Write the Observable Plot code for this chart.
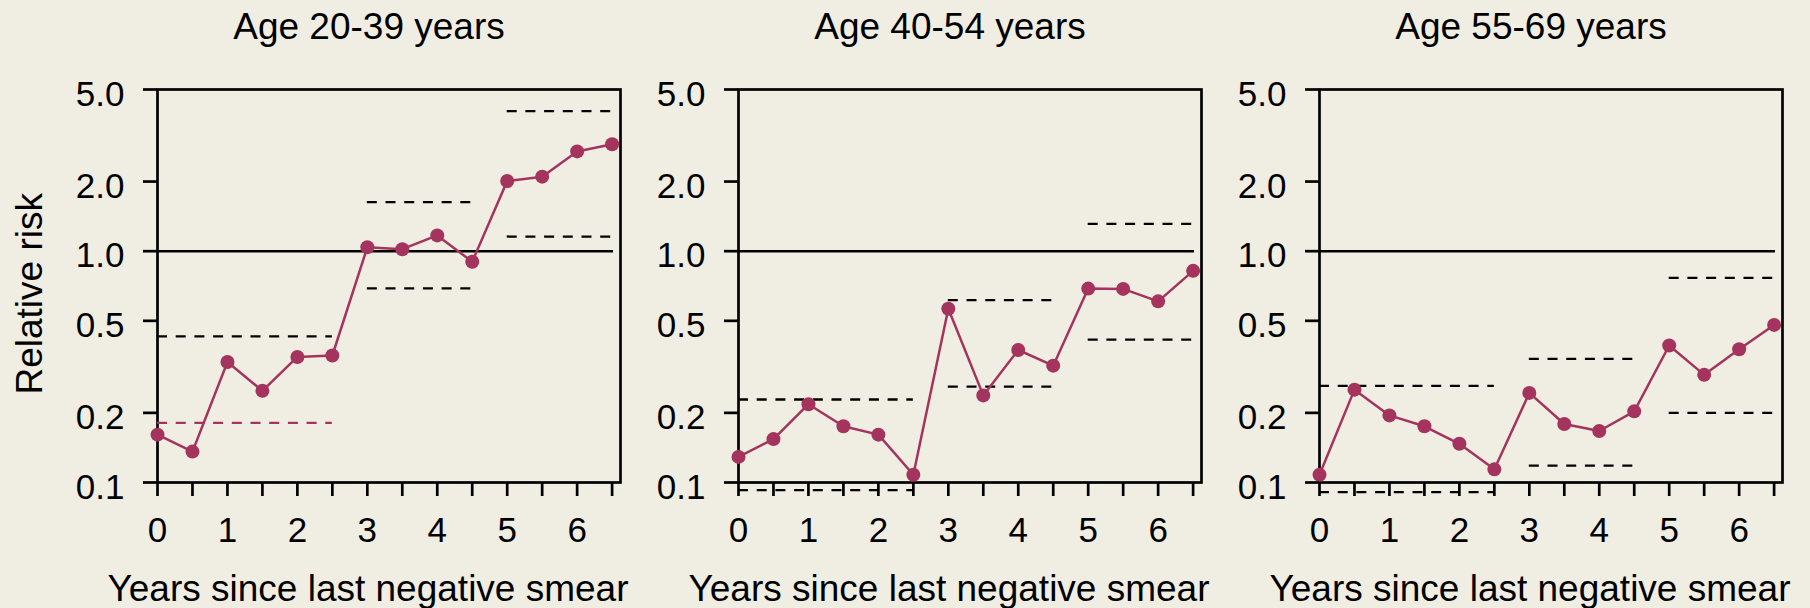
<!DOCTYPE html>
<html><head><meta charset="utf-8">
<script src="https://cdn.jsdelivr.net/npm/d3@7"></script>
<script src="https://cdn.jsdelivr.net/npm/@observablehq/plot@0.6"></script>
<style>
html,body{margin:0;padding:0;background:#F0EEE3;overflow:hidden;}
#wrap{position:relative;width:1810px;height:608px;}
#wrap svg{position:absolute;top:0;}
</style></head><body><div id="wrap"></div>
<script>
// ---- data ----
const years = [0,0.5,1,1.5,2,2.5,3,3.5,4,4.5,5,5.5,6,6.5];
const panelTitles = ["Age 20-39 years","Age 40-54 years","Age 55-69 years"];
const rr20to39 = [0.161,0.136,0.332,0.249,0.349,0.354,1.04,1.02,1.17,0.90,2.01,2.10,2.70,2.90];
const rr40to54 = [0.129,0.154,0.218,0.175,0.161,0.108,0.564,0.238,0.374,0.320,0.689,0.687,0.607,0.822];
const rr55to69 = [0.108,0.252,0.195,0.175,0.147,0.114,0.244,0.179,0.167,0.203,0.391,0.292,0.377,0.480];
const groupStart = [0,3,5];
const groupEnd = [2.5,4.5,6.5];
const ciLow20to39 = [0.181,0.691,1.157];
const ciHigh20to39 = [0.428,1.63,4.03];
const ciLow40to54 = [0.0926,0.2595,0.415];
const ciHigh40to54 = [0.2285,0.614,1.313];
const ciLow55to69 = [0.0908,0.1184,0.1998];
const ciHigh55to69 = [0.2615,0.342,0.767];
const yTicks = [0.1,0.2,0.5,1,2,5];
const yTickLabels = ["0.1","0.2","0.5","1.0","2.0","5.0"];
const xTicks = years;
const xLabelTicks = [0,1,2,3,4,5,6];
const xDomain = [0, 6.62];
const yDomain = [0.1, 5];
const refValue = [1];
const refSpan = [0, 6.52];
const xTitle = "Years since last negative smear";
const yTitle = "Relative risk";

// ---- styling ----
const RED = "#A4345E";
const FONT = "'Liberation Sans', Arial, Helvetica, sans-serif";
const DASH = "10,8.7";
const panelLeft = [0, 581, 1162];

const series = [rr20to39, rr40to54, rr55to69];
const lows = [ciLow20to39, ciLow40to54, ciLow55to69];
const highs = [ciHigh20to39, ciHigh40to54, ciHigh55to69];

const wrap = document.getElementById("wrap");
series.forEach((vals, p) => {
  const pts = years.map((x, i) => ({x, y: vals[i]}));
  const ci = groupStart.map((s, g) => ({x1: s, x2: groupEnd[g], lo: lows[p][g], hi: highs[p][g], group: g}));
  const redLow = ci.filter(d => p === 0 && d.group === 0);
  const blackLow = ci.filter(d => !(p === 0 && d.group === 0));
  const marks = [
    Plot.frame({strokeWidth: 2.7, stroke: "black"}),
    Plot.ruleY(refValue, {x1: refSpan[0], x2: refSpan[1], stroke: "black", strokeWidth: 2.4}),
    Plot.ruleY(ci, {x1: "x1", x2: "x2", y: "hi", stroke: "black", strokeWidth: 2.3, strokeDasharray: DASH}),
    Plot.ruleY(blackLow, {x1: "x1", x2: "x2", y: "lo", stroke: "black", strokeWidth: 2.3, strokeDasharray: DASH}),
    Plot.ruleY(redLow, {x1: "x1", x2: "x2", y: "lo", stroke: RED, strokeWidth: 2.3, strokeDasharray: DASH}),
    Plot.line(pts, {x: "x", y: "y", stroke: RED, strokeWidth: 2.5}),
    Plot.dot(pts, {x: "x", y: "y", r: 7, fill: RED, stroke: "none"}),
    Plot.axisY(yTicks, {anchor: "left", tickSize: 14, strokeWidth: 2.7, tickFormat: () => "", label: null}),
    Plot.axisY(yTicks, {anchor: "left", tickSize: 0, tickPadding: 33, dy: 5, fontSize: 35,
      tickFormat: d => yTickLabels[yTicks.indexOf(d)], label: null}),
    Plot.axisX(xTicks, {anchor: "bottom", tickSize: 14, strokeWidth: 2.7, tickFormat: () => "", label: null}),
    Plot.axisX(xLabelTicks, {anchor: "bottom", tickSize: 0, tickPadding: 35, fontSize: 35,
      tickFormat: d => String(d), label: null}),
    Plot.text([panelTitles[p]], {text: d => d, frameAnchor: "top", lineAnchor: "bottom", dy: -50.7, dx: -20, fontSize: 37, fill: "black"}),
    Plot.text([xTitle], {text: d => d, frameAnchor: "bottom", lineAnchor: "bottom", dy: 118, dx: -21, fontSize: 37, fill: "black"})
  ];
  if (p === 0) {
    marks.push(Plot.text([yTitle], {text: d => d, frameAnchor: "left", rotate: -90, lineAnchor: "bottom",
      textAnchor: "middle", dx: -115.3, dy: 7.8, fontSize: 37, fill: "black"}));
  }
  const svg = Plot.plot({
    width: 648, height: 608,
    marginLeft: 157, marginRight: 28, marginTop: 89, marginBottom: 126,
    style: {background: "transparent", fontFamily: FONT, fontSize: "35px", color: "black", overflow: "visible"},
    x: {type: "linear", domain: xDomain},
    y: {type: "log", domain: yDomain},
    marks
  });
  svg.style.left = panelLeft[p] + "px";
  svg.style.maxWidth = "none";
  wrap.appendChild(svg);
});
</script>
</body></html>
